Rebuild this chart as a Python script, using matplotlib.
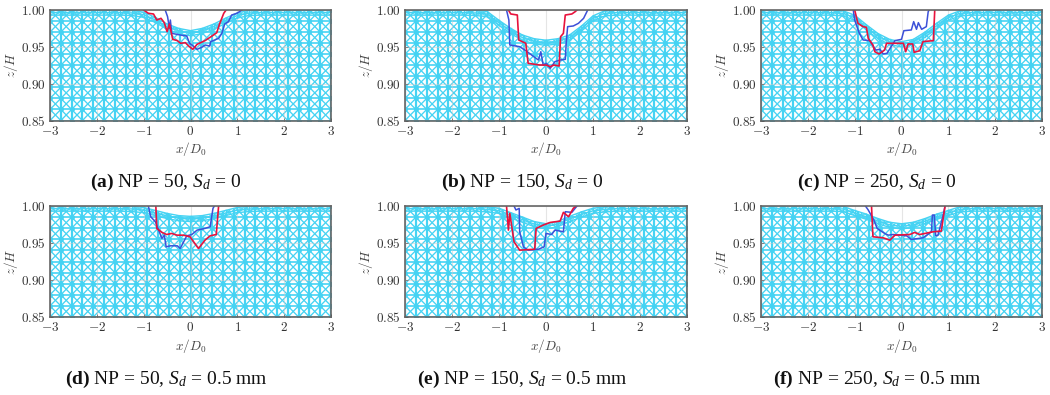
import matplotlib
matplotlib.use("agg")
import matplotlib.pyplot as plt
import numpy as np

plt.rcParams['mathtext.fontset'] = 'cm'
plt.rcParams['mathtext.rm'] = 'Liberation Serif'
plt.rcParams['mathtext.it'] = 'Liberation Serif:italic'
plt.rcParams['mathtext.bf'] = 'Liberation Serif:bold'
plt.rcParams['font.family'] = ['Liberation Serif', 'DejaVu Serif']

surf_x = [-3, -2.75, -2.5, -2.25, -2, -1.75, -1.5, -1.25, -1, -0.75, -0.5, -0.25, 0,
          0.25, 0.5, 0.75, 1, 1.25, 1.5, 1.75, 2, 2.25, 2.5, 2.75, 3]
surf_a = [1, 1, 1, 1, 1, 1, 1, .9995, .997, .99, .981, .975, .972, .975, .981, .989, .996, .9995, 1, 1, 1, 1, 1, 1, 1]
surf_b = [1, 1, 1, 1, 1, 1, .9995, .998, .986, .975, .966, .961, .959, .961, .966, .978, .992, .999, 1, 1, 1, 1, 1, 1, 1]
surf_c = [1, 1, 1, 1, 1, 1, 1, .999, .993, .98, .968, .96, .957, .96, .97, .982, .993, .999, 1, 1, 1, 1, 1, 1, 1]
surf_d = [1, 1, 1, 1, 1, 1, 1, .9995, .998, .994, .99, .987, .986, .987, .99, .994, .998, .9995, 1, 1, 1, 1, 1, 1, 1]
surf_e = [1, 1, 1, 1, 1, 1, 1, .999, .997, .991, .985, .979, .976, .979, .986, .992, .997, .999, 1, 1, 1, 1, 1, 1, 1]
surf_f = [1, 1, 1, 1, 1, 1, 1, .9995, .994, .989, .983, .978, .976, .978, .983, .989, .994, .999, 1, 1, 1, 1, 1, 1, 1]

red_a_x = [-1.0, -.90, -.79, -.72, -.63, -.56, -.50, -.45, -.38, -.28, -.21, -.11, -.04, .05, .14, .31, .46, .56, .62, .71, .76]
red_a_z = [1.0, .9955, .9946, .9864, .9887, .9828, .9706, .981, .9602, .9584, .9548, .9557, .9511, .9466, .9534, .9584, .9647, .9692, .981, .9955, 1.0]
blue_a_x = [-.54, -.49, -.45, -.43, -.40, -.22, -.08, -.02, .03, .14, .24, .31, .41, .43, .60, .67, .73, .81, .88, .99, 1.10]
blue_a_z = [1.0, .991, .9751, .9864, .9683, .9661, .9647, .9548, .9525, .9466, .9493, .9525, .9511, .957, .9615, .9683, .981, .9842, .9932, .9955, 1.0]

red_b_x = [-.80, -.75, -.61, -.58, -.43, -.38, -.13, 0, .09, .17, .28, .31, .37, .41, .55, .62, .66]
red_b_z = [1.0, .9946, .9932, .9593, .9548, .9276, .9253, .9253, .9231, .9253, .924, .9638, .9683, .9932, .9946, .9977, 1.0]
blue_b_x = [-.84, -.79, -.77, -.56, -.40, -.24, -.16, -.11, -.06, .01, .09, .19, .30, .41, .43, .46, .58, .69, .80, .88]
blue_b_z = [1.0, .9864, .9525, .9502, .9434, .9357, .9321, .9434, .9253, .9276, .9208, .9299, .9321, .933, .9548, .9774, .9783, .9819, .9887, .999]

red_c_x = [-1.0, -.93, -.82, -.75, -.71, -.61, -.57, -.48, -.36, -.32, .04, .09, .14, .24, .27, .39, .46, .68, .71]
red_c_z = [1.0, .9819, .9774, .9765, .9615, .9525, .9434, .9403, .9457, .9548, .9548, .9434, .9539, .9539, .9425, .9448, .9571, .9584, 1.0]
blue_c_x = [-1.03, -1.0, -.90, -.82, -.68, -.55, -.46, -.39, -.31, -.14, 0, .05, .21, .26, .32, .36, .43, .53, .57, .59]
blue_c_z = [1.0, .9864, .9683, .9593, .9584, .9457, .9466, .9403, .9412, .9584, .9602, .9719, .9729, .9842, .9738, .9828, .9738, .9774, .9977, 1.0]

red_d_x = [-.74, -.72, -.61, -.51, -.40, -.29, -.15, -.01, .17, .31, .42, .55, .60]
red_d_z = [1.0, .9697, .9643, .9615, .9629, .9606, .9606, .9584, .9425, .9539, .9597, .9615, 1.0]
blue_d_x = [-.90, -.85, -.75, -.68, -.61, -.56, -.52, -.43, -.28, -.22, -.08, .03, .14, .31, .42, .48, .51]
blue_d_z = [1.0, .9855, .9787, .9674, .9561, .9606, .9448, .9462, .9462, .9425, .9597, .9615, .9674, .9697, .972, .9968, 1.0]

red_e_x = [-.84, -.80, -.77, -.68, -.56, -.24, -.21, -.06, .09, .30, .37, .48, .58, .64]
red_e_z = [1.0, .9674, .9900, .9516, .9403, .9416, .9697, .9742, .9778, .9796, .9914, .9855, .9968, 1.0]
blue_e_x = [-.68, -.64, -.57, -.56, -.48, -.38, -.16, -.04, 0, .12, .19, .37, .41, .55, .66]
blue_e_z = [1.0, .9946, .9968, .9652, .9448, .9403, .9416, .9448, .9629, .9615, .9674, .9652, .9923, .9914, 1.0]

red_f_x = [-.64, -.61, -.39, -.25, -.14, .18, .28, .39, .68, .85, .93]
red_f_z = [1.0, .9584, .957, .9538, .9606, .9615, .9643, .9615, .9652, .9661, 1.0]
blue_f_x = [-.77, -.71, -.59, -.52, -.36, -.28, -.18, .11, .21, .46, .64, .66, .70, .73, .78, .89, .93]
blue_f_z = [1.0, .9946, .9810, .9697, .9629, .9606, .9615, .9597, .9548, .957, .9652, .9878, .9878, .9597, .9606, .9878, 1.0]

captions = [r'$\mathbf{(a)}$ NP = 50, $S_d$ = 0', r'$\mathbf{(b)}$ NP = 150, $S_d$ = 0', r'$\mathbf{(c)}$ NP = 250, $S_d$ = 0',
            r'$\mathbf{(d)}$ NP = 50, $S_d$ = 0.5 mm', r'$\mathbf{(e)}$ NP = 150, $S_d$ = 0.5 mm', r'$\mathbf{(f)}$ NP = 250, $S_d$ = 0.5 mm']
x_ticks = [-3, -2, -1, 0, 1, 2, 3]
x_tick_labels = ['$-3$', '$-2$', '$-1$', '$0$', '$1$', '$2$', '$3$']
z_ticks = [0.85, 0.90, 0.95, 1.00]
z_tick_labels = ['$0.85$', '$0.90$', '$0.95$', '$1.00$']

MESH = '#45d3f3'
RED = '#e8123c'
BLUE = '#3c50d8'
W, H = 1050.0, 395.0


def draw_mesh(ax, surf):
    xs = np.linspace(-3, 3, 27)
    zs = np.linspace(0.85, 1.0, 11)
    for x in xs:
        ax.plot([x, x], [0.85, 1.0], color=MESH, lw=1.6, zorder=1, solid_capstyle='butt')
    for z in zs:
        ax.plot([-3, 3], [z, z], color=MESH, lw=1.2, zorder=1)
    for i in range(len(xs) - 1):
        for j in range(len(zs) - 1):
            ax.plot(xs[i:i + 2], zs[j:j + 2], color=MESH, lw=0.95, zorder=1)
            ax.plot(xs[i:i + 2], zs[j:j + 2][::-1], color=MESH, lw=0.95, zorder=1)
    # blobs where the mesh lines meet
    xx, zz = np.meshgrid(xs, zs)
    ax.plot(xx.ravel(), zz.ravel(), 'o', color=MESH, ms=3.6, mew=0, zorder=1)
    # white above the free surface, fine cells just under it
    ax.fill_between(surf_x, surf, 1.01, color='white', lw=0, zorder=2)
    s = np.array(surf)
    for off in [0.0, 0.0035, 0.007]:
        ax.plot(surf_x, s - off, color=MESH, lw=1.0, zorder=4)
    for i, x in enumerate(surf_x):
        ax.plot([x, x], [s[i] - 0.007, s[i]], color=MESH, lw=1.0, zorder=4)
        if i < len(surf_x) - 1:
            ax.plot(surf_x[i:i + 2], [s[i] - 0.007, s[i + 1]], color=MESH, lw=0.6, zorder=4)
            ax.plot(surf_x[i:i + 2], [s[i], s[i + 1] - 0.007], color=MESH, lw=0.6, zorder=4)


def make_panel(box, surf, red_x, red_z, blue_x, blue_z):
    left, right, top, bottom = box
    ax = fig.add_axes([left / W, 1 - bottom / H, (right - left) / W, (bottom - top) / H])
    draw_mesh(ax, surf)
    for x in x_ticks:
        ax.axvline(x, color='#cccccc', lw=0.8, alpha=0.5, zorder=3)
    for z in z_ticks:
        ax.axhline(z, color='#cccccc', lw=0.8, alpha=0.5, zorder=3)
    ax.plot(blue_x, blue_z, color=BLUE, lw=1.1, zorder=5)
    ax.plot(red_x, red_z, color=RED, lw=1.2, zorder=6)
    ax.set_xlim(-3, 3)
    ax.set_ylim(0.85, 1.0)
    ax.set_xticks(x_ticks)
    ax.set_xticklabels(x_tick_labels)
    ax.set_yticks(z_ticks)
    ax.set_yticklabels(z_tick_labels)
    ax.tick_params(direction='in', length=2.5, width=0.7, labelsize=9.5, pad=3, colors='#333333')
    ax.set_xlabel('$x/D_0$', fontsize=9.5, labelpad=2, color='#444444')
    ax.set_ylabel('$z/H$', fontsize=9.5, labelpad=1, color='#444444')
    for sp in ax.spines.values():
        sp.set_color('#666666')
        sp.set_linewidth(1.2)
        sp.set_zorder(8)
    return ax


fig = plt.figure(figsize=(10.5, 3.95), dpi=100)

make_panel((50, 331, 10, 120.5), surf_a, red_a_x, red_a_z, blue_a_x, blue_a_z)
make_panel((405, 687, 10, 120.5), surf_b, red_b_x, red_b_z, blue_b_x, blue_b_z)
make_panel((761, 1042, 10, 120.5), surf_c, red_c_x, red_c_z, blue_c_x, blue_c_z)
make_panel((50, 331, 206, 317), surf_d, red_d_x, red_d_z, blue_d_x, blue_d_z)
make_panel((405, 687, 206, 317), surf_e, red_e_x, red_e_z, blue_e_x, blue_e_z)
make_panel((761, 1042, 206, 317), surf_f, red_f_x, red_f_z, blue_f_x, blue_f_z)

cap_x = [166, 522, 877, 166, 522, 877]
cap_y = [182, 182, 182, 379, 379, 379]
for i in range(6):
    fig.text(cap_x[i] / W, 1 - cap_y[i] / H, captions[i], fontsize=14, ha='center', va='center',
             color='#111111', math_fontfamily='custom')

fig.savefig('out.png', dpi=100)
